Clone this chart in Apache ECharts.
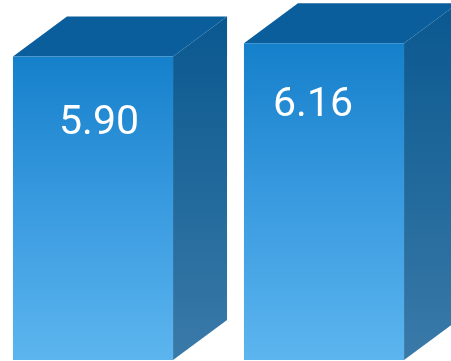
<!DOCTYPE html>
<html>
<head>
<meta charset="utf-8">
<script src="https://cdn.jsdelivr.net/npm/echarts@6/dist/echarts.min.js"></script>
<style>html,body{margin:0;padding:0;background:#fff}#c{width:451px;height:361px}</style>
</head>
<body>
<div id="c"></div>
<script>
var categories = ['A', 'B'];
var values = [5.90, 6.16];
var labels = ['5.90', '6.16'];

var chart = echarts.init(document.getElementById('c'), null, {renderer: 'canvas'});
var DX = 54, DY = -40;
var labelDX = [6, -11], labelDY = [67, 63];
function renderItem(params, api) {
  var i = api.value(0);
  var v = api.value(1);
  var top = api.coord([i, v]);
  var base = api.coord([i, 0]);
  var bw = api.size([1, 0])[0] * 0.693;
  var x0 = top[0] - bw / 2, x1 = top[0] + bw / 2;
  var yT = top[1], yB = base[1];
  return {
    type: 'group',
    children: [
      {
        type: 'polygon',
        shape: {points: [[x1, yT], [x1 + DX, yT + DY], [x1 + DX, yB + DY], [x1, yB]]},
        style: {fill: new echarts.graphic.LinearGradient(0, 0, 0, 1, [
          {offset: 0, color: '#0a5890'}, {offset: 0.5, color: '#21699b'}, {offset: 1, color: '#3a7aa9'}])}
      },
      {
        type: 'polygon',
        shape: {points: [[x0, yT], [x0 + DX, yT + DY], [x1 + DX, yT + DY], [x1, yT]]},
        style: {fill: '#0a5e9c'}
      },
      {
        type: 'rect',
        shape: {x: x0, y: yT, width: bw, height: yB - yT},
        style: {fill: new echarts.graphic.LinearGradient(0, 0, 0, 1, [
          {offset: 0, color: '#1580cb'}, {offset: 0.5, color: '#3a9be0'}, {offset: 1, color: '#5cb5ee'}])}
      },
      {
        type: 'text',
        style: {
          text: labels[i], x: top[0] + labelDX[i], y: yT + labelDY[i],
          fill: '#ffffff', font: '41px Roboto', align: 'center', verticalAlign: 'middle'
        }
      }
    ]
  };
}
chart.setOption({
  animation: false,
  grid: {left: 0, right: 0, top: 0, bottom: 1, containLabel: false},
  xAxis: {type: 'value', min: -0.4026, max: 1.5498, show: false},
  yAxis: {type: 'value', min: 0, max: 7, show: false},
  series: [{
    type: 'custom',
    renderItem: renderItem,
    data: values.map(function (v, i) { return [i, v]; }),
    clip: false
  }]
});
</script>
</body>
</html>
